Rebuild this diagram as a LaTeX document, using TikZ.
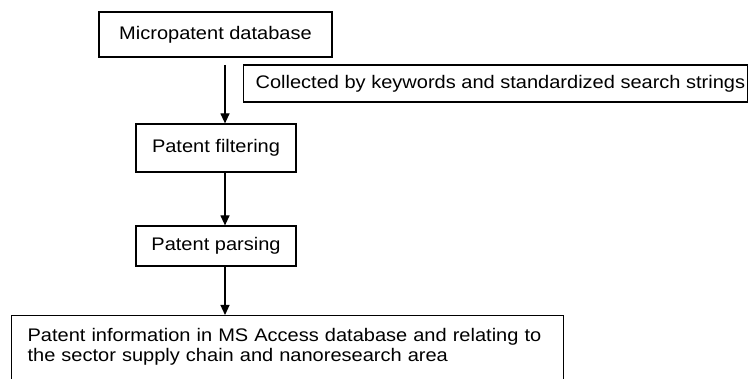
\documentclass[tikz,border=0pt]{standalone}
\usepackage{fontspec}
\setmainfont{Liberation Sans}[FakeStretch=1.1]
\usetikzlibrary{arrows.meta}
\begin{document}
\begin{tikzpicture}[x=1pt,y=-1pt,
  font=\fontsize{18.2}{20}\selectfont,
  box/.style={draw, line width=1.2pt, inner sep=0pt},
  arr/.style={line width=1.2pt, -{Triangle[length=10pt,width=9pt]}}]
\useasboundingbox (0,0) rectangle (748,379);
\clip (0,0) rectangle (748,379);
\node[box, minimum width=233pt, minimum height=45pt] (b1) at (215.5,34.5) {Micropatent database};
\node[box, anchor=west, minimum height=37pt] (note) at (243,83.5) {\hspace*{12pt}\makebox[492pt][l]{Collected by keywords and standardized search strings}};
\node[box, minimum width=160pt, minimum height=48pt] (b2) at (216,148) {Patent filtering};
\node[box, minimum width=160pt, minimum height=40pt] (b3) at (216,246) {Patent parsing};
\node[box, anchor=north west, inner xsep=16pt, inner ysep=13pt, text width=520pt, align=left, text depth=40pt] (b4) at (11,315) {Patent information in MS Access database and relating to\\the sector supply chain and nanoresearch area};
\coordinate (a1s) at (225,65);
\draw[arr] (a1s) -- (b2.north -| a1s);
\draw[arr] (b2.south -| a1s) -- (b3.north -| a1s);
\draw[arr] (b3.south -| a1s) -- (b4.north -| a1s);
\end{tikzpicture}
\end{document}
